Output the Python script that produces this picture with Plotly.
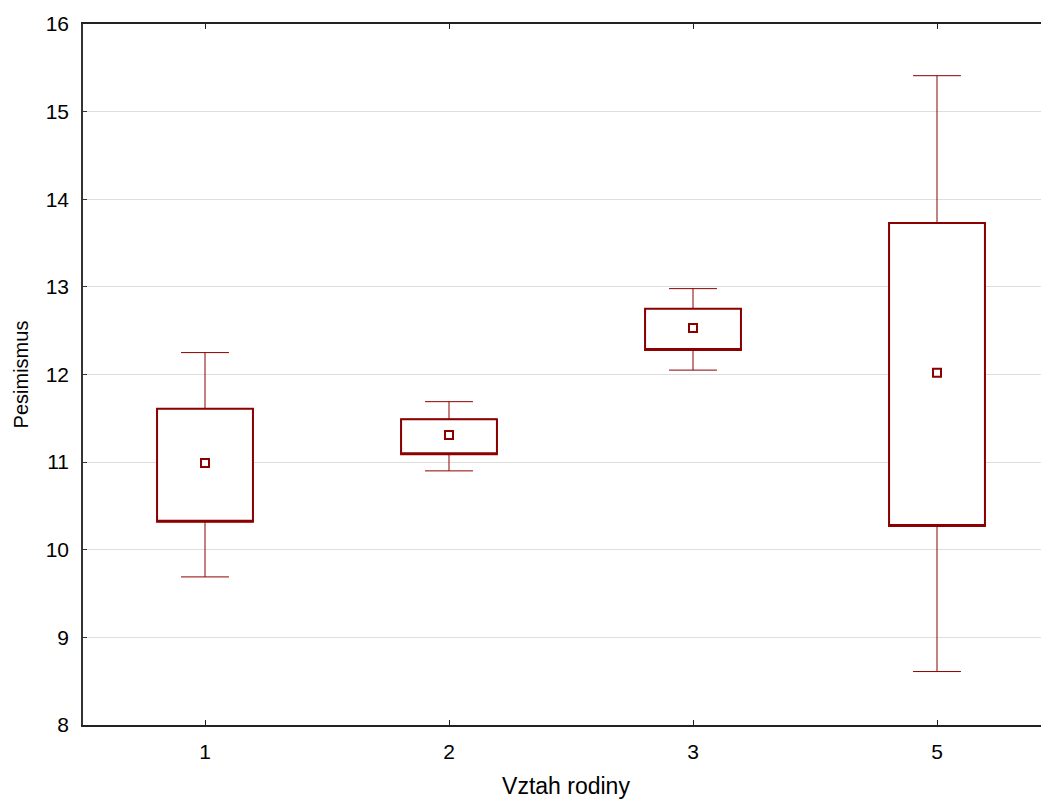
import plotly.graph_objects as go

categories = ["1", "2", "3", "5"]
means = [10.99, 11.31, 12.53, 12.02]
box_low = [10.32, 11.09, 12.28, 10.27]
box_high = [11.61, 11.49, 12.75, 13.73]
whisker_low = [9.69, 10.90, 12.05, 8.61]
whisker_high = [12.25, 11.69, 12.98, 15.41]

color = "#8B0000"
fig = go.Figure()

# whiskers (thin)
fig.add_trace(go.Box(
    x=categories, q1=box_low, median=box_low, q3=box_high,
    lowerfence=whisker_low, upperfence=whisker_high,
    width=0.393, whiskerwidth=0.5, line=dict(color=color, width=1),
    fillcolor="rgba(255,255,255,0)", boxpoints=False, hoverinfo="skip",
    showlegend=False))

# boxes (thicker)
fig.add_trace(go.Box(
    x=categories, q1=box_low, median=box_low, q3=box_high,
    lowerfence=box_low, upperfence=box_high,
    width=0.393, whiskerwidth=0, line=dict(color=color, width=2),
    fillcolor="white", boxpoints=False, showlegend=False))

# means
fig.add_trace(go.Scatter(
    x=categories, y=means, mode="markers",
    marker=dict(symbol="square-open", size=8, color=color,
                line=dict(width=2, color=color)),
    showlegend=False))

fam = "Liberation Sans, Arial, sans-serif"
tickfont = dict(family=fam, size=21, color="black")
fig.update_layout(
    width=1041, height=792,
    margin=dict(l=75, r=0, t=16, b=75),
    paper_bgcolor="white", plot_bgcolor="white",
    boxmode="overlay", font=tickfont,
    xaxis=dict(type="category", range=[-0.5, 3.459],
               showline=True, linecolor="#222", linewidth=1.5, mirror="ticks",
               ticks="inside", ticklen=5, tickcolor="#222", tickwidth=1,
               showgrid=False, zeroline=False, ticklabelstandoff=7,
               tickfont=tickfont,
               title=dict(text="Vztah rodiny", standoff=16,
                          font=dict(family=fam, size=23, color="black"))),
    yaxis=dict(range=[8, 16], dtick=1, tick0=8,
               showline=True, linecolor="#333", linewidth=1.5,
               ticks="inside", ticklen=4, tickcolor="#333",
               showgrid=True, gridcolor="#dedede", gridwidth=1,
               zeroline=False, ticklabelstandoff=8, tickfont=tickfont,
               title=dict(text="Pesimismus", standoff=12,
                          font=dict(family=fam, size=20, color="black"))),
)

fig.write_html("out.html")
